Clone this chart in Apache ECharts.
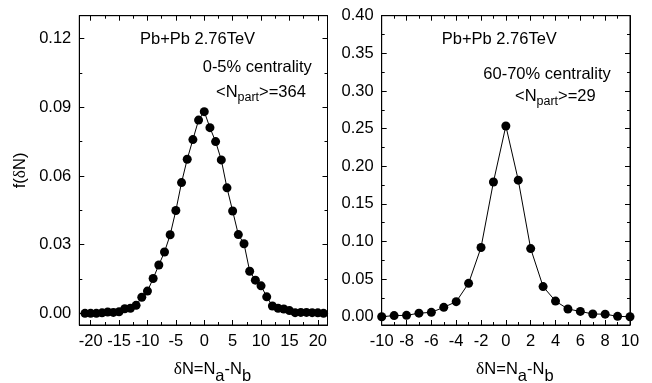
<!DOCTYPE html>
<html><head><meta charset="utf-8">
<script src="https://cdn.jsdelivr.net/npm/echarts@6/dist/echarts.min.js"></script>
<style>html,body{margin:0;padding:0;background:#fff}#c{width:652px;height:383px}</style>
</head><body><div id="c"></div>
<script>
// ---- data: left panel (0-5% centrality) ----
const leftDeltaN = [-21,-20,-19,-18,-17,-16,-15,-14,-13,-12,-11,-10,-9,-8,-7,-6,-5,-4,-3,-2,-1,0,1,2,3,4,5,6,7,8,9,10,11,12,13,14,15,16,17,18,19,20,21];
const leftF = [0.0000,0.0000,0.0000,0.0002,0.0006,0.0004,0.0007,0.0020,0.0022,0.0035,0.0070,0.0097,0.0152,0.0211,0.0268,0.0343,0.0449,0.0571,0.0673,0.0759,0.0844,0.0881,0.0811,0.0750,0.0670,0.0548,0.0447,0.0344,0.0304,0.0184,0.0145,0.0120,0.0072,0.0032,0.0022,0.0019,0.0012,0.0003,0.0004,0.0004,0.0003,0.0002,0.0000];
// ---- data: right panel (60-70% centrality) ----
const rightDeltaN = [-10,-9,-8,-7,-6,-5,-4,-3,-2,-1,0,1,2,3,4,5,6,7,8,9,10];
const rightF = [0.0000,0.0015,0.0018,0.0047,0.0058,0.0125,0.0200,0.0444,0.0920,0.1790,0.2535,0.1815,0.0905,0.0400,0.0208,0.0102,0.0071,0.0036,0.0034,0.0005,0.0000];
// ---- tick labels ----
const leftXTicks = [-20,-15,-10,-5,0,5,10,15,20];
const leftXMinor = [-17.5,-12.5,-7.5,-2.5,2.5,7.5,12.5,17.5];
const leftYTicks = [0,0.03,0.06,0.09,0.12];
const leftYMinor = [0.015,0.045,0.075,0.105];
const rightXTicks = [-10,-8,-6,-4,-2,0,2,4,6,8,10];
const rightXMinor = [-9,-7,-5,-3,-1,1,3,5,7,9];
const rightYTicks = [0,0.05,0.10,0.15,0.20,0.25,0.30,0.35,0.40];
const rightYMinor = [0.025,0.075,0.125,0.175,0.225,0.275,0.325,0.375];

const FONT = 'Liberation Sans';
const FS = 16.5;

function axisSet(grid, min, max, major, minor, fmt, sides, name, nameGap, namePad, nameRich, nameText) {
  const mk = (pos, ticks, len, labels, line, extra) => Object.assign({
    type: 'value', gridIndex: grid, min: min, max: max, position: pos,
    axisLine: { show: line, onZero: false, lineStyle: { color: '#000', width: 1 } },
    axisTick: { show: true, inside: true, length: len, customValues: ticks, lineStyle: { color: '#000', width: 1 } },
    axisLabel: labels ? { show: true, customValues: major, formatter: fmt, color: '#000', fontFamily: FONT, fontSize: FS, margin: 8 } : { show: false },
    splitLine: { show: false }
  }, extra || {});
  return [
    mk(sides[0], major, 5, true, true, name ? {
      name: nameText, nameLocation: 'middle', nameGap: nameGap,
      nameTextStyle: { color: '#000', fontFamily: FONT, fontSize: FS, padding: namePad, rich: nameRich }
    } : {}),
    mk(sides[0], minor, 3, false, false),
    mk(sides[1], major, 5, false, true),
    mk(sides[1], minor, 3, false, false)
  ];
}

const subRich = {
  n: { fontFamily: FONT, fontSize: FS, color: '#000' },
  d: { fontFamily: 'Liberation Serif', fontSize: FS + 1, color: '#000' },
  s: { fontFamily: FONT, fontSize: FS, color: '#000', padding: [15, 0, 0, 0] }
};
const xTitle = '{d|δ}{n|N=N}{s|a}{n|-N}{s|b}';
const fmt2 = v => v.toFixed(2);
const fmt0 = v => String(Math.round(v));

const xAxes = [].concat(
  axisSet(0, -22, 21.7, leftXTicks, leftXMinor, fmt0, ['bottom', 'top'], true, 28, [0, 0, 0, 18], subRich, xTitle),
  axisSet(1, -10, 10, rightXTicks, rightXMinor, fmt0, ['bottom', 'top'], true, 28, [0, 0, 0, 18], subRich, xTitle)
);
const yAxes = [].concat(
  axisSet(0, -0.0051, 0.130, leftYTicks, leftYMinor, fmt2, ['left', 'right'], true, 50, [0, 0, 0, 0],
    { n: { fontFamily: FONT, fontSize: FS, color: '#000' }, d: { fontFamily: 'Liberation Serif', fontSize: FS + 1, color: '#000' } },
    '{n|f(}{d|δ}{n|N)}'),
  axisSet(1, -0.011, 0.40, rightYTicks, rightYMinor, fmt2, ['left', 'right'], false)
);

function ann(x, y, text, rich) {
  return { type: 'text', x: x, y: y, silent: true,
    style: { text: text, rich: rich, fill: '#000', font: FS + 'px "' + FONT + '"', align: 'left', verticalAlign: 'middle' } };
}
const annRich = {
  n: { fontFamily: FONT, fontSize: FS, fill: '#000' },
  s: { fontFamily: FONT, fontSize: 12.5, fill: '#000', padding: [10, 0, 0, 0] }
};

const chart = echarts.init(document.getElementById('c'), null, { renderer: 'canvas' });
chart.setOption({
  animation: false,
  backgroundColor: '#fff',
  grid: [
    { left: 79.3, top: 15.7, width: 248.2, height: 309.3, show: true, borderColor: '#000', borderWidth: 1, backgroundColor: 'transparent', containLabel: false, outerBoundsMode: 'none' },
    { left: 381.7, top: 15.7, width: 248.3, height: 309.3, show: true, borderColor: '#000', borderWidth: 1, backgroundColor: 'transparent', containLabel: false, outerBoundsMode: 'none' }
  ],
  xAxis: xAxes,
  yAxis: yAxes,
  series: [
    { type: 'line', xAxisIndex: 0, yAxisIndex: 0, data: leftDeltaN.map((x, i) => [x, leftF[i]]),
      symbol: 'circle', symbolSize: 9, itemStyle: { color: '#000' }, lineStyle: { color: '#000', width: 1 } },
    { type: 'line', xAxisIndex: 4, yAxisIndex: 4, data: rightDeltaN.map((x, i) => [x, rightF[i]]),
      symbol: 'circle', symbolSize: 9, itemStyle: { color: '#000' }, lineStyle: { color: '#000', width: 1 } }
  ],
  graphic: [
    ann(140, 39, 'Pb+Pb 2.76TeV'),
    ann(202.7, 67.5, '0-5% centrality'),
    ann(216, 92.8, '{n|<N}{s|part}{n|>=364}', annRich),
    ann(441.7, 39, 'Pb+Pb 2.76TeV'),
    ann(483.3, 74.2, '60-70% centrality'),
    ann(515, 96.2, '{n|<N}{s|part}{n|>=29}', annRich)
  ]
});
</script></body></html>
